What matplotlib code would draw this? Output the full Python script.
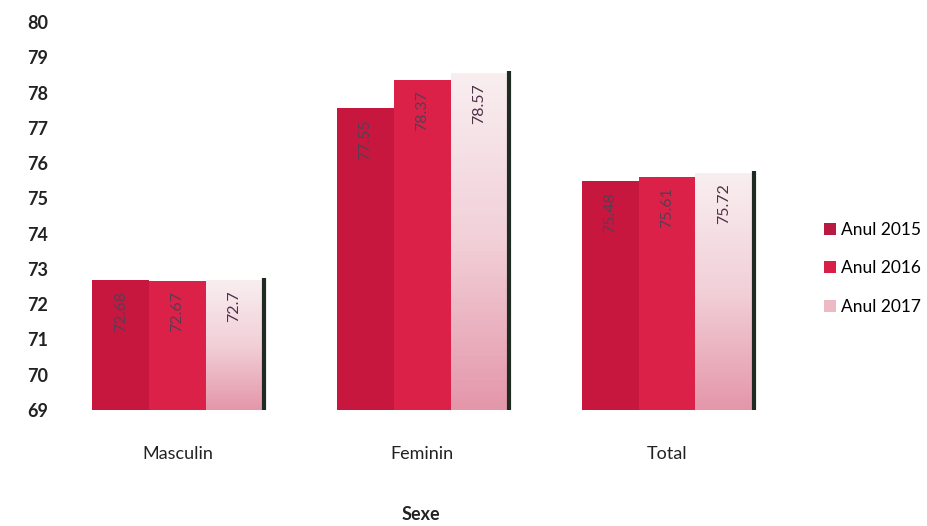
import numpy as np
import matplotlib.pyplot as plt
from matplotlib.colors import LinearSegmentedColormap
from matplotlib.patches import Patch

plt.rcParams['font.family'] = ['Lato', 'DejaVu Sans']

categories = ['Masculin', 'Feminin', 'Total']
years = ['Anul 2015', 'Anul 2016', 'Anul 2017']
v2015 = [72.68, 77.55, 75.48]
v2016 = [72.67, 78.37, 75.61]
v2017 = [72.7, 78.57, 75.72]
label_text = [['72.68', '77.55', '75.48'],
              ['72.67', '78.37', '75.61'],
              ['72.7', '78.57', '75.72']]
yticks = list(range(69, 81))

series = [v2015, v2016, v2017]
colors = ['#c8173f', '#dc2149', '#f0c4ce']
base = 69
width = 0.232

fig = plt.figure(figsize=(9.27, 5.26), dpi=100)
ax = fig.add_axes([0.07, 0.2205, 0.771, 0.7375])
ax.set_xlim(-0.46, 2.46)
ax.set_ylim(69, 80)

fade = LinearSegmentedColormap.from_list('fade', ['#e497aa', '#f2d0d8', '#f8eef0'])
ramp = np.linspace(0, 1, 100).reshape(-1, 1)

x = np.arange(len(categories))
for i, vals in enumerate(series):
    pos = x + (i - 1) * width
    bars = ax.bar(pos, np.array(vals) - base, width, bottom=base,
                  color=colors[i], edgecolor='none', zorder=2)
    for j, b in enumerate(bars):
        if i == 2:
            # light bar fades from pink at the bottom to near white at the top
            b.set_facecolor('none')
            img = ax.imshow(ramp, cmap=fade,
                            extent=[pos[j] - width / 2, pos[j] + width / 2, base, vals[j]],
                            origin='lower', aspect='auto', zorder=2)
            img.set_clip_path(b)
            # dark edge along the right side of the group
            ax.vlines(pos[j] + width / 2 + 0.006, base, vals[j] + 0.05,
                      color='#1e2a22', lw=3, zorder=3)
        ax.text(pos[j], vals[j] - 0.3, label_text[i][j], rotation=90,
                ha='center', va='top', fontsize=11.5,
                color='#4e3048' if i == 2 else '#5a3c52', zorder=4)

ax.set_xticks(x)
ax.set_xticklabels(categories, fontsize=13, color='#222222')
ax.set_yticks(yticks)
ax.set_yticklabels([str(t) for t in yticks], fontsize=13, fontweight='bold',
                   color='#222222')
ax.tick_params(axis='x', length=0, pad=26)
ax.tick_params(axis='y', length=0, pad=12)
for s in ax.spines.values():
    s.set_visible(False)

fig.text(0.4545, 0.005, 'Sexe', ha='center', va='bottom', fontsize=13,
         fontweight='bold', color='#222222')

handles = [Patch(facecolor='#b81a42'), Patch(facecolor='#d81f47'),
           Patch(facecolor='#ecb9c5')]
fig.legend(handles, years, loc='center left', bbox_to_anchor=(0.872, 0.49),
           frameon=False, fontsize=12.5, handlelength=0.7, handleheight=0.7,
           handletextpad=0.3, labelspacing=1.3)

fig.savefig('out.png', dpi=100)
